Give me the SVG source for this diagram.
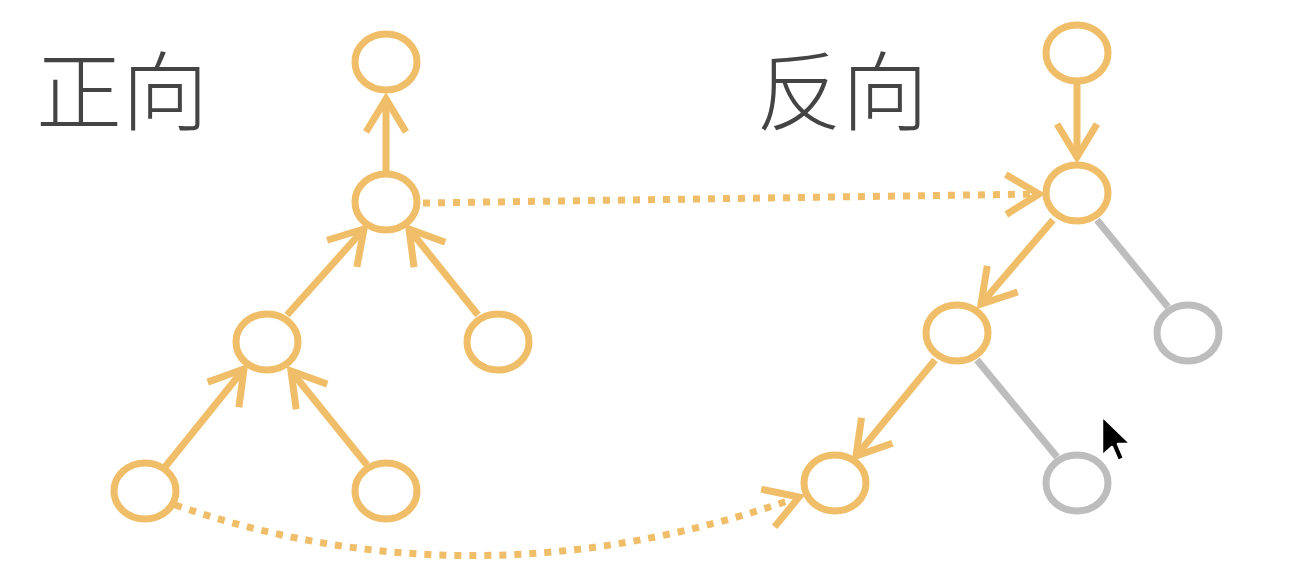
<svg xmlns="http://www.w3.org/2000/svg" width="1302" height="562" viewBox="0 0 1302 562">
  <style>
    .node { fill: #ffffff; stroke: #F0BD68; stroke-width: 7; }
    .gray { fill: #ffffff; stroke: #BDBDBD; stroke-width: 7; }
    .edge { fill: none; stroke: #F0BD68; stroke-width: 7; }
    .gedge { fill: none; stroke: #BDBDBD; stroke-width: 7; }
    .dot { fill: none; stroke: #F0BD68; stroke-width: 7; stroke-dasharray: 7 8; }
    .title { font-family: "Noto Sans CJK SC", "Noto Sans CJK JP", sans-serif; font-size: 86px; font-weight: 300; fill: #444444; }
  </style>
  <defs>
    <marker id="arr" markerUnits="userSpaceOnUse" markerWidth="80" markerHeight="80" refX="0" refY="0" viewBox="-40 -40 80 80" orient="auto" overflow="visible">
      <path d="M -33 -20 L 0 0 L -33 20" fill="none" stroke="#F0BD68" stroke-width="7" stroke-dasharray="none" stroke-linejoin="miter"/>
    </marker>
  </defs>

  <text class="title" x="36" y="124">正向</text>
  <text class="title" x="756" y="124">反向</text>

  <g id="connectors">
    <line class="edge" x1="386" y1="172" x2="386" y2="99" marker-end="url(#arr)"/>
    <line class="edge" x1="287" y1="315" x2="364" y2="229" marker-end="url(#arr)"/>
    <line class="edge" x1="478" y1="315" x2="409" y2="229" marker-end="url(#arr)"/>
    <line class="edge" x1="165" y1="467" x2="244" y2="369" marker-end="url(#arr)"/>
    <line class="edge" x1="367" y1="465" x2="291" y2="371" marker-end="url(#arr)"/>
    <line class="edge" x1="1077" y1="83" x2="1077" y2="157" marker-end="url(#arr)"/>
    <line class="edge" x1="1053" y1="220" x2="981" y2="304" marker-end="url(#arr)"/>
    <line class="edge" x1="935" y1="360" x2="856" y2="456" marker-end="url(#arr)"/>
    <line class="gedge" x1="1097" y1="220" x2="1168" y2="307"/>
    <line class="gedge" x1="977" y1="360" x2="1057" y2="457"/>
    <line class="dot" x1="423" y1="203" x2="1039" y2="194" marker-end="url(#arr)"/>
    <path class="dot" d="M 175 505 Q 480 610 799 497" marker-end="url(#arr)"/>
  </g>

  <g id="n-l-top"><ellipse class="node" cx="386" cy="62" rx="31" ry="28"/></g>
  <g id="n-l-2"><ellipse class="node" cx="386" cy="202" rx="31" ry="28"/></g>
  <g id="n-l-mid"><ellipse class="node" cx="267" cy="342" rx="31" ry="28"/></g>
  <g id="n-l-right"><ellipse class="node" cx="498" cy="342" rx="31" ry="28"/></g>
  <g id="n-l-bl"><ellipse class="node" cx="145" cy="491" rx="31" ry="28"/></g>
  <g id="n-l-br"><ellipse class="node" cx="386" cy="491" rx="31" ry="28"/></g>

  <g id="n-r-top"><ellipse class="node" cx="1077" cy="53" rx="31" ry="28"/></g>
  <g id="n-r-2"><ellipse class="node" cx="1077" cy="193" rx="31" ry="28"/></g>
  <g id="n-r-mid"><ellipse class="node" cx="957" cy="333" rx="31" ry="28"/></g>
  <g id="n-r-gray1"><ellipse class="gray" cx="1188" cy="333" rx="31" ry="28"/></g>
  <g id="n-r-bl"><ellipse class="node" cx="835" cy="483" rx="31" ry="28"/></g>
  <g id="n-r-gray2"><ellipse class="gray" cx="1077" cy="483" rx="31" ry="28"/></g>

  <path d="M 1102 416 L 1102 456 L 1112 447 L 1118 461 L 1124 458 L 1118 444 L 1131 444 Z" fill="#000000" stroke="#ffffff" stroke-width="2.5" stroke-linejoin="round"/>
</svg>
